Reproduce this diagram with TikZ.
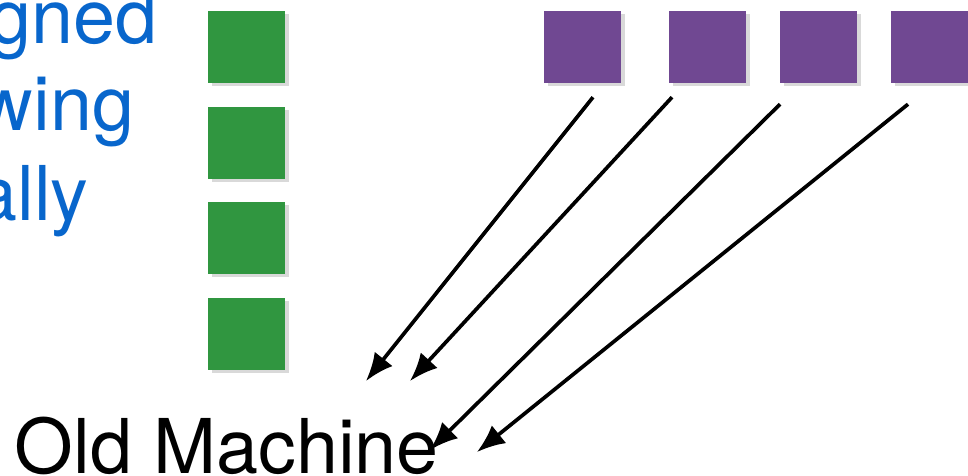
\documentclass[tikz,border=0pt]{standalone}
\usepackage{fontspec}
\setmainfont{TeX Gyre Heros}
\usepackage{tikz}
\usetikzlibrary{arrows.meta,shadows,positioning}
\definecolor{TextBlue}{RGB}{8,102,204}
\definecolor{JobGreen}{RGB}{48,150,64}
\definecolor{JobPurple}{RGB}{112,72,146}
\tikzset{
  every node/.style={
    font=\fontsize{21.5}{25}\selectfont,
    inner sep=0pt
  },
  job style/.style={
    fill=#1,
    minimum width=0.77cm,
    minimum height=0.72cm,
    drop shadow={shadow xshift=0.04cm,shadow yshift=-0.03cm,opacity=0.3}
  },
  move arrow/.style={
    line width=1.05pt,
    -{Latex[length=8pt,width=6.5pt]}
  }
}

\begin{document}
\begin{tikzpicture}[%
    caption/.style={text=TextBlue, anchor=base east}
  ]
    \useasboundingbox (0,0) rectangle (9.68,4.75);
    % text cut by the left edge
    \node[caption] (l1) at (1.58,4.32) {gned};
    \node[caption] (l2) at (1.35,3.45) {wing};
    \node[caption] (l3) at (0.89,2.55) {ally};
    \node[anchor=base west] (old) at (0.14,0.02) {Old Machine};
    % jobs
    \node[job style=JobGreen] (g1) at (2.465,4.28) {};
    \node[job style=JobGreen] (g2) at (2.465,3.325) {};
    \node[job style=JobGreen] (g3) at (2.465,2.37) {};
    \node[job style=JobGreen] (g4) at (2.465,1.41) {};
    \node[job style=JobPurple] (p1) at (5.825,4.285) {};
    \node[job style=JobPurple] (p2) at (7.075,4.285) {};
    \node[job style=JobPurple] (p3) at (8.185,4.285) {};
    \node[job style=JobPurple] (p4) at (9.295,4.285) {};
    % arrow heads
    \coordinate (h1) at (3.66,0.94);
    \coordinate (h2) at (4.10,0.94);
    \coordinate (h3) at (4.30,0.25);
    \coordinate (h4) at (4.77,0.23);
    \draw[move arrow] ([xshift=0.105cm,yshift=-0.14cm]p1.south) -- (h1);
    \draw[move arrow] ([xshift=-0.355cm,yshift=-0.14cm]p2.south) -- (h2);
    \draw[move arrow] ([xshift=-0.385cm,yshift=-0.21cm]p3.south) -- (h3);
    \draw[move arrow] ([xshift=-0.215cm,yshift=-0.21cm]p4.south) -- (h4);
  \end{tikzpicture}
\end{document}
